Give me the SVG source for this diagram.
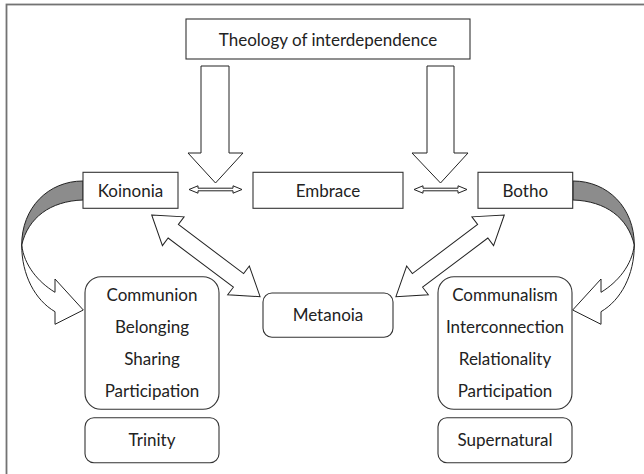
<svg xmlns="http://www.w3.org/2000/svg" width="644" height="474" viewBox="0 0 644 474">
  <style>
    .bg { fill: #ffffff; }
    .frame { fill: none; stroke: #737373; stroke-width: 1.8; }
    .box { fill: #ffffff; stroke: #333333; stroke-width: 1.1; }
    .arr { fill: #ffffff; stroke: #222222; stroke-width: 1; stroke-linejoin: miter; }
    .shade { fill: #8c8c8c; stroke: #222222; stroke-width: 1; }
    text { font-family: "Lato", "Open Sans", sans-serif; font-size: 17px; fill: #222222; text-anchor: middle; dominant-baseline: central; }
  </style>
  <rect class="bg" x="0" y="0" width="644" height="474"/>
  <rect class="frame" x="6.5" y="4.5" width="700" height="520"/>

  <g id="connectors">
    <!-- big down arrows -->
    <path class="arr" d="M201,66 L229,66 L229,153 L243,153 L215.5,183 L188,153 L201,153 Z"/>
    <path class="arr" d="M427,66 L454,66 L454,153 L468,153 L440.5,183 L412,153 L427,153 Z"/>
    <!-- small horizontal double arrows -->
    <path class="arr" d="M189,189.5 L198,185.8 L198,188.2 L233,188.2 L233,185.8 L242,189.5 L233,193.2 L233,190.8 L198,190.8 L198,193.2 Z"/>
    <path class="arr" d="M414,189.5 L423,185.8 L423,188.2 L458,188.2 L458,185.8 L467,189.5 L458,193.2 L458,190.8 L423,190.8 L423,193.2 Z"/>
    <!-- diagonal double arrows -->
    <path class="arr" transform="translate(151.7,215) rotate(37)" d="M0,0 L27,-18 L27,-8.5 L108.7,-8.5 L108.7,-18 L135.7,0 L108.7,18 L108.7,8.5 L27,8.5 L27,18 Z"/>
    <path class="arr" transform="translate(504.3,215) rotate(143)" d="M0,0 L27,-18 L27,-8.5 L108.7,-8.5 L108.7,-18 L135.7,0 L108.7,18 L108.7,8.5 L27,8.5 L27,18 Z"/>
    <!-- curved arrow left -->
    <g id="curve-left">
      <path class="shade" d="M83,181 C48,181 21.7,208 21.7,245 C28,218 50,201 83,200 Z"/>
      <path class="arr" d="M21.7,245 C21.7,275 35,300 55,311.7 L55,324.3 L83.3,310 L55,279 L55,292.3 C38,282 24,265 21.7,245 Z"/>
    </g>
    <!-- curved arrow right (mirror) -->
    <g id="curve-right" transform="translate(656,0) scale(-1,1)">
      <path class="shade" d="M83,181 C48,181 21.7,208 21.7,245 C28,218 50,201 83,200 Z"/>
      <path class="arr" d="M21.7,245 C21.7,275 35,300 55,311.7 L55,324.3 L83.3,310 L55,279 L55,292.3 C38,282 24,265 21.7,245 Z"/>
    </g>
  </g>

  <g id="theology">
    <rect class="box" x="186" y="19" width="284" height="40"/>
    <text x="328" y="39">Theology of interdependence</text>
  </g>
  <g id="koinonia">
    <rect class="box" x="83" y="172.3" width="95" height="36"/>
    <text x="130.5" y="190.3">Koinonia</text>
  </g>
  <g id="embrace">
    <rect class="box" x="253" y="172.3" width="150" height="36"/>
    <text x="328" y="190.3">Embrace</text>
  </g>
  <g id="botho">
    <rect class="box" x="478" y="172.3" width="94.7" height="36"/>
    <text x="525.3" y="190.3">Botho</text>
  </g>
  <g id="metanoia">
    <rect class="box" x="263" y="293" width="130" height="44.3" rx="9"/>
    <text x="328" y="314.5">Metanoia</text>
  </g>
  <g id="koinonia-list">
    <rect class="box" x="85" y="276.7" width="134" height="132.6" rx="16"/>
    <text x="152" y="294">Communion</text>
    <text x="152" y="326.7">Belonging</text>
    <text x="152" y="358.3">Sharing</text>
    <text x="152" y="390.7">Participation</text>
  </g>
  <g id="trinity">
    <rect class="box" x="85" y="417.7" width="134" height="45" rx="9"/>
    <text x="152" y="439">Trinity</text>
  </g>
  <g id="botho-list">
    <rect class="box" x="438" y="276.7" width="134" height="132.6" rx="16"/>
    <text x="505" y="294">Communalism</text>
    <text x="505" y="326.7">Interconnection</text>
    <text x="505" y="358.3">Relationality</text>
    <text x="505" y="390.7">Participation</text>
  </g>
  <g id="supernatural">
    <rect class="box" x="438" y="417.7" width="134" height="45" rx="9"/>
    <text x="505" y="439">Supernatural</text>
  </g>
</svg>
